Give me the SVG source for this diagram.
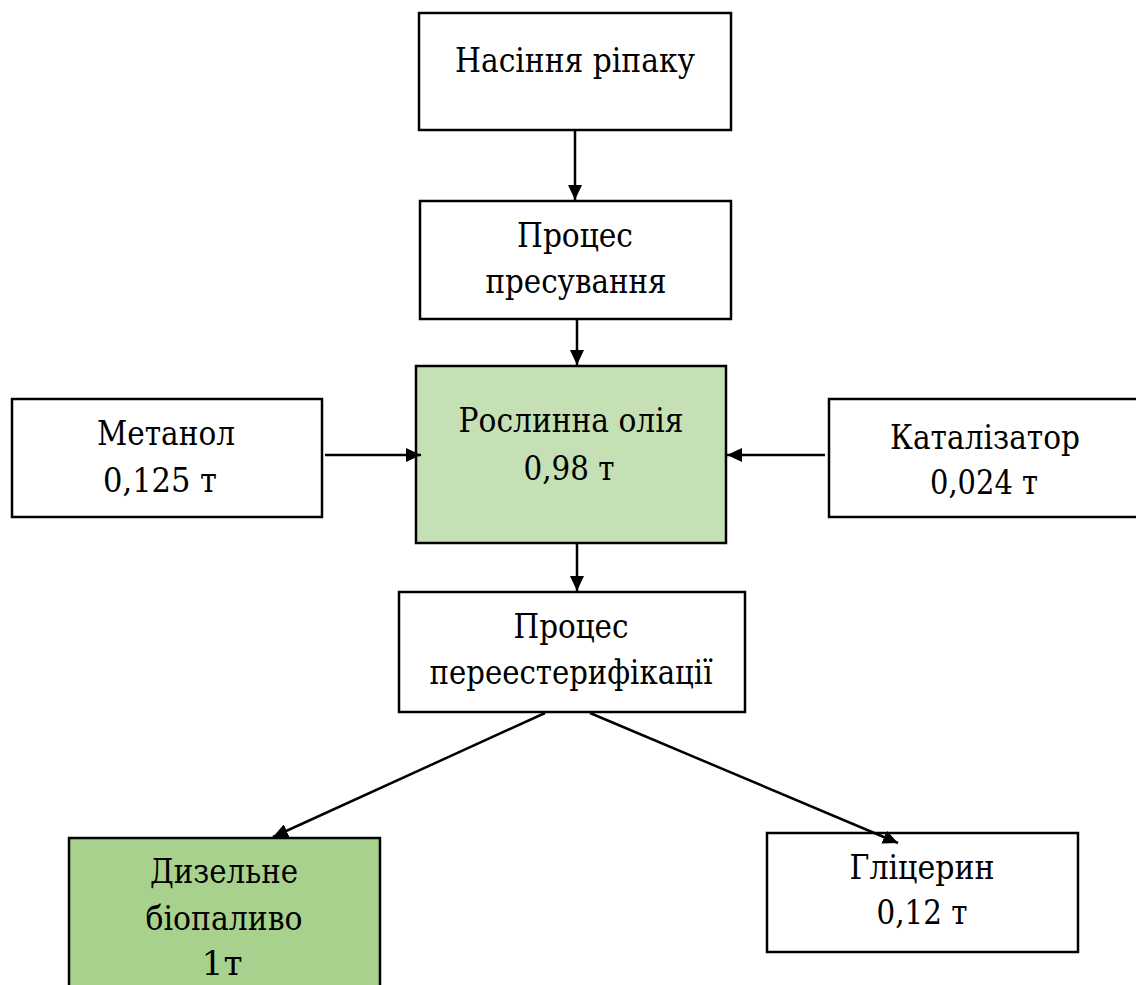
<svg xmlns="http://www.w3.org/2000/svg" width="1136" height="985" viewBox="0 0 1136 985">
<defs>
<marker id="ah" markerUnits="userSpaceOnUse" markerWidth="16" markerHeight="14" refX="15" refY="7" orient="auto">
<path d="M0,0 L15,7 L0,14 z" fill="#000"/>
</marker>
</defs>
<style>
.box{fill:#fff;stroke:#000;stroke-width:2.5}
.g1{fill:#C5E0B4}
.g2{fill:#A9D18E}
text{font-family:'DejaVu Serif',serif;font-size:34px;fill:#000;text-anchor:middle}
.c{stroke:#000;stroke-width:2.5;fill:none;marker-end:url(#ah)}
</style>
<rect width="1136" height="985" fill="#fff"/>
<g id="n1">
<rect class="box" x="419" y="13" width="312" height="117"/>
<text x="575" y="72" textLength="240" lengthAdjust="spacingAndGlyphs">Насіння ріпаку</text>
</g>
<g id="n2">
<rect class="box" x="420" y="201" width="311" height="118"/>
<text x="575" y="247" textLength="116" lengthAdjust="spacingAndGlyphs">Процес</text>
<text x="576" y="293" textLength="181" lengthAdjust="spacingAndGlyphs">пресування</text>
</g>
<g id="n3">
<rect class="box g1" x="416" y="366" width="310" height="177"/>
<text x="571" y="432" textLength="225" lengthAdjust="spacingAndGlyphs">Рослинна олія</text>
<text x="569" y="480" textLength="91" lengthAdjust="spacingAndGlyphs">0,98 т</text>
</g>
<g id="n4">
<rect class="box" x="12" y="399" width="310" height="118"/>
<text x="166" y="445" textLength="138" lengthAdjust="spacingAndGlyphs">Метанол</text>
<text x="160" y="492" textLength="114" lengthAdjust="spacingAndGlyphs">0,125 т</text>
</g>
<g id="n5">
<rect class="box" x="829" y="399" width="312" height="118"/>
<text x="985" y="449" textLength="190" lengthAdjust="spacingAndGlyphs">Каталізатор</text>
<text x="984" y="494" textLength="108" lengthAdjust="spacingAndGlyphs">0,024 т</text>
</g>
<g id="n6">
<rect class="box" x="399" y="592" width="346" height="120"/>
<text x="571" y="638" textLength="115" lengthAdjust="spacingAndGlyphs">Процес</text>
<text x="571" y="684" textLength="283" lengthAdjust="spacingAndGlyphs">переестерифікації</text>
</g>
<g id="n7">
<rect class="box g2" x="69" y="838" width="311" height="160"/>
<text x="224" y="883" textLength="148" lengthAdjust="spacingAndGlyphs">Дизельне</text>
<text x="224" y="930" textLength="157" lengthAdjust="spacingAndGlyphs">біопаливо</text>
<text x="222" y="975" textLength="41" lengthAdjust="spacingAndGlyphs">1т</text>
</g>
<g id="n8">
<rect class="box" x="767" y="833" width="311" height="119"/>
<text x="922" y="879" textLength="145" lengthAdjust="spacingAndGlyphs">Гліцерин</text>
<text x="922" y="924" textLength="91" lengthAdjust="spacingAndGlyphs">0,12 т</text>
</g>
<g id="connectors">
<line class="c" x1="575" y1="131" x2="575" y2="200"/>
<line class="c" x1="577" y1="320" x2="577" y2="365"/>
<line class="c" x1="325" y1="455" x2="421" y2="455"/>
<line class="c" x1="825" y1="455" x2="727" y2="455"/>
<line class="c" x1="577" y1="544" x2="577" y2="591"/>
<line class="c" x1="545" y1="713" x2="273" y2="837"/>
<line class="c" x1="590" y1="713" x2="898" y2="843"/>
</g>
</svg>
